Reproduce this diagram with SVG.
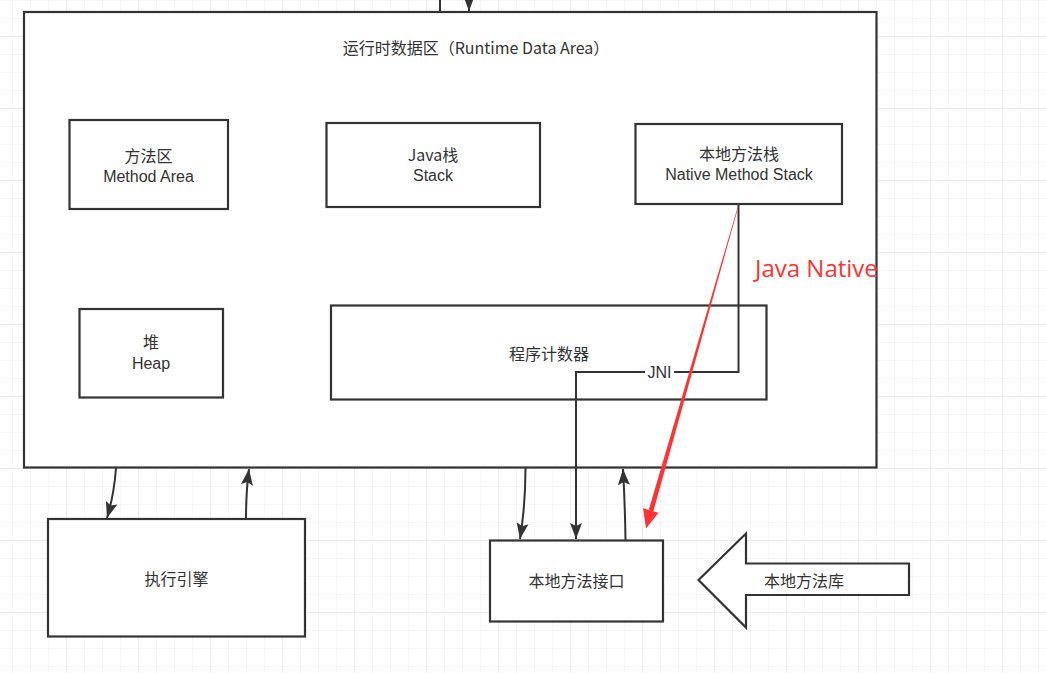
<svg xmlns="http://www.w3.org/2000/svg" width="1046" height="673" viewBox="0 0 1046 673">
<defs>
<pattern id="minor" width="18" height="18" x="12" y="0" patternUnits="userSpaceOnUse">
<path d="M0,0 H18 M0,0 V18" fill="none" stroke="#efefef" stroke-width="1"/>
</pattern>
<pattern id="major" width="72" height="72" x="66" y="36" patternUnits="userSpaceOnUse">
<path d="M0,0 H72 M0,0 V72" fill="none" stroke="#e3e3e3" stroke-width="1"/>
</pattern>
<marker id="arr" markerUnits="userSpaceOnUse" markerWidth="18" markerHeight="14" refX="16" refY="6" orient="auto" viewBox="0 0 18 12">
<path d="M0,0 L16,6 L0,12 L3,6 Z" fill="#333"/>
</marker>
<style>
.box{fill:#fff;stroke:#333;stroke-width:2.2}
.lbl{font-family:"Noto Sans CJK SC","Open Sans",sans-serif;font-size:16px;fill:#333;text-anchor:middle}
.lat{font-family:"Liberation Sans","Noto Sans CJK SC",sans-serif;font-size:16px;fill:#333;text-anchor:middle}
.conn{fill:none;stroke:#333;stroke-width:2}
</style>
</defs>
<rect width="1046" height="673" fill="#fff"/>
<rect width="1046" height="673" fill="url(#minor)"/>
<rect width="1046" height="673" fill="url(#major)"/>

<g id="runtime-data-area">
<rect class="box" x="24" y="12" width="852.5" height="455.5"/>
<text class="lbl" x="476" y="54">运行时数据区（Runtime Data Area）</text>
</g>
<g id="method-area">
<rect class="box" x="69.5" y="120" width="158.5" height="89"/>
<text class="lbl" x="148.5" y="161.5">方法区</text>
<text class="lat" x="148.5" y="181.5">Method Area</text>
</g>
<g id="java-stack">
<rect class="box" x="326.5" y="123" width="213.5" height="84"/>
<text class="lbl" x="433" y="160.5">Java栈</text>
<text class="lat" x="433" y="180.5">Stack</text>
</g>
<g id="native-method-stack">
<rect class="box" x="635.5" y="124" width="206.5" height="80"/>
<text class="lbl" x="739" y="159.5">本地方法栈</text>
<text class="lat" x="739" y="179.5">Native Method Stack</text>
</g>
<g id="heap">
<rect class="box" x="79.5" y="309" width="143.5" height="88.5"/>
<text class="lbl" x="151" y="348">堆</text>
<text class="lat" x="151" y="369">Heap</text>
</g>
<g id="program-counter">
<rect class="box" x="331" y="305.5" width="435.5" height="94"/>
<text class="lbl" x="549" y="360">程序计数器</text>
</g>
<g id="execution-engine">
<rect class="box" x="48" y="519" width="257" height="117.5"/>
<text class="lbl" x="176.5" y="585">执行引擎</text>
</g>
<g id="native-interface">
<rect class="box" x="490" y="540.5" width="173" height="81"/>
<text class="lbl" x="576.5" y="587">本地方法接口</text>
</g>
<g id="native-library">
<path class="box" d="M698.5,580 L746,533.5 L746,563.5 L909,563.5 L909,595 L746,595 L746,627.5 Z"/>
<text class="lbl" x="804" y="587">本地方法库</text>
</g>

<g id="connectors">
<line class="conn" x1="440" y1="0" x2="440" y2="12"/>
<line class="conn" x1="469" y1="-4" x2="469" y2="11" marker-end="url(#arr)"/>
<path class="conn" d="M116,468 Q114,495 107,518" marker-end="url(#arr)"/>
<path class="conn" d="M246,519 Q246,492 249,469" marker-end="url(#arr)"/>
<path class="conn" d="M525.5,468 Q525.5,505 520,539" marker-end="url(#arr)"/>
<path class="conn" d="M738.5,204 V372 H576 V539" marker-end="url(#arr)"/>
<path class="conn" d="M625.5,540 Q625,505 623,469" marker-end="url(#arr)"/>
<rect x="645" y="365" width="29" height="15" fill="#fff"/>
<text class="lat" x="659.5" y="378">JNI</text>
<polygon points="737.7,207 738.3,207 653.3,511.4 648.7,510.1" fill="#ff3333"/>
<polygon points="646,528.5 643,508.3 658.5,512.7" fill="#ff3333"/>
<text x="755" y="277" font-family="'Open Sans','Noto Sans',sans-serif" font-size="24" fill="#ff3333">Java Native</text>
</g>
</svg>
